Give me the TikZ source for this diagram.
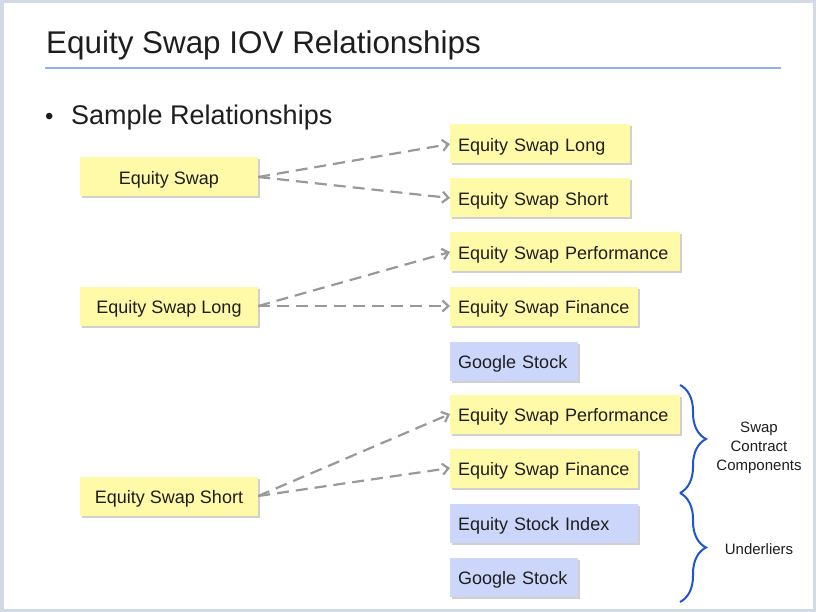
\documentclass[tikz,border=0pt]{standalone}
\usepackage{fontspec}
\setmainfont{Liberation Sans}
\usetikzlibrary{arrows.meta, shadows, decorations.pathreplacing, positioning}
\definecolor{boxyellow}{HTML}{FFFAA8}
\definecolor{boxblue}{HTML}{CCD6FA}
\definecolor{ruleblue}{HTML}{8FB2EC}
\definecolor{braceblue}{HTML}{1F55D1}
\definecolor{framegray}{HTML}{D3DAE4}
\definecolor{txt}{HTML}{1E1E1E}
\tikzset{
    x=1pt, y=-1pt, % one unit is one pixel of the slide, y runs down
    box/.style = {minimum height=39pt, inner xsep=8pt, text=txt,
                  text height=15pt, text depth=0pt,
                  font=\fontsize{18}{20}\selectfont,
                  drop shadow={shadow xshift=2pt, shadow yshift=-2pt, opacity=0.3, fill=black!60}},
    ylw/.style = {box, fill=boxyellow},
    blu/.style = {box, fill=boxblue},
    src/.style = {ylw, minimum width=178pt}, % boxes on the left
    tgt/.style = {anchor=west, text width=#1, align=left}, % boxes on the right, #1 = box width - 16pt
    rel/.style = {-{Straight Barb[length=6pt,width=11pt]}, draw=black!40,
                  line width=2.2pt, dash pattern=on 12pt off 7pt},
    brc/.style = {draw=braceblue, line width=2pt, decorate, decoration={brace, amplitude=26pt}},
    side/.style = {font=\fontsize{15}{19}\selectfont, align=center, text=txt}
}

\begin{document}
\begin{tikzpicture}
  \useasboundingbox (0,0) rectangle (816,612);
  \fill[framegray] (0,0) rectangle (816,612);
  \fill[white] (4,3) rectangle (813,609);

  % heading
  \node[anchor=base west, inner sep=0pt, text=txt, font=\fontsize{31.4}{34}\selectfont] (title) at (46,54) {Equity Swap IOV Relationships};
  \draw[ruleblue, line width=2pt] (45,68) -- (781,68);
  \node[anchor=base west, inner sep=0pt, text=txt, font=\fontsize{27}{30}\selectfont] (sub) at (45,125)
    {\makebox[26pt][l]{\fontsize{24}{24}\selectfont\textbullet}Sample Relationships};

  % left column
  \node[src] (es)  at (169,177) {Equity Swap};
  \node[src] (esl) at (169,306) {Equity Swap Long};
  \node[src] (ess) at (169,496) {Equity Swap Short};

  % right column
  \node[ylw, tgt=164pt] (l1) at (450,144) {Equity Swap Long};
  \node[ylw, tgt=164pt] (s1) at (450,198) {Equity Swap Short};
  \node[ylw, tgt=214pt] (p1) at (450,252) {Equity Swap Performance};
  \node[ylw, tgt=172pt] (f1) at (450,306) {Equity Swap Finance};
  \node[blu, tgt=112pt] (g1) at (450,361) {Google Stock};
  \node[ylw, tgt=214pt] (p2) at (450,414) {Equity Swap Performance};
  \node[ylw, tgt=172pt] (f2) at (450,468) {Equity Swap Finance};
  \node[blu, tgt=172pt] (ix) at (450,523) {Equity Stock Index};
  \node[blu, tgt=112pt] (g2) at (450,577) {Google Stock};

  % relationships
  \draw[rel] (es.east)  -- (l1.west);
  \draw[rel] (es.east)  -- (s1.west);
  \draw[rel] (esl.east) -- (p1.west);
  \draw[rel] (esl.east) -- (f1.west);
  \draw[rel] (ess.east) -- (p2.west);
  \draw[rel] (ess.east) -- (f2.west);

  % groups
  \coordinate (b1) at (680,385);
  \coordinate (b2) at (680,493);
  \coordinate (b3) at (680,602);
  \draw[brc] (b1) -- (b2);
  \draw[brc] (b2) -- (b3);
  \node[side] (comp) at (759,448) {Swap\\Contract\\Components};
  \node[side] (undl) at (759,549) {Underliers};
\end{tikzpicture}
\end{document}
